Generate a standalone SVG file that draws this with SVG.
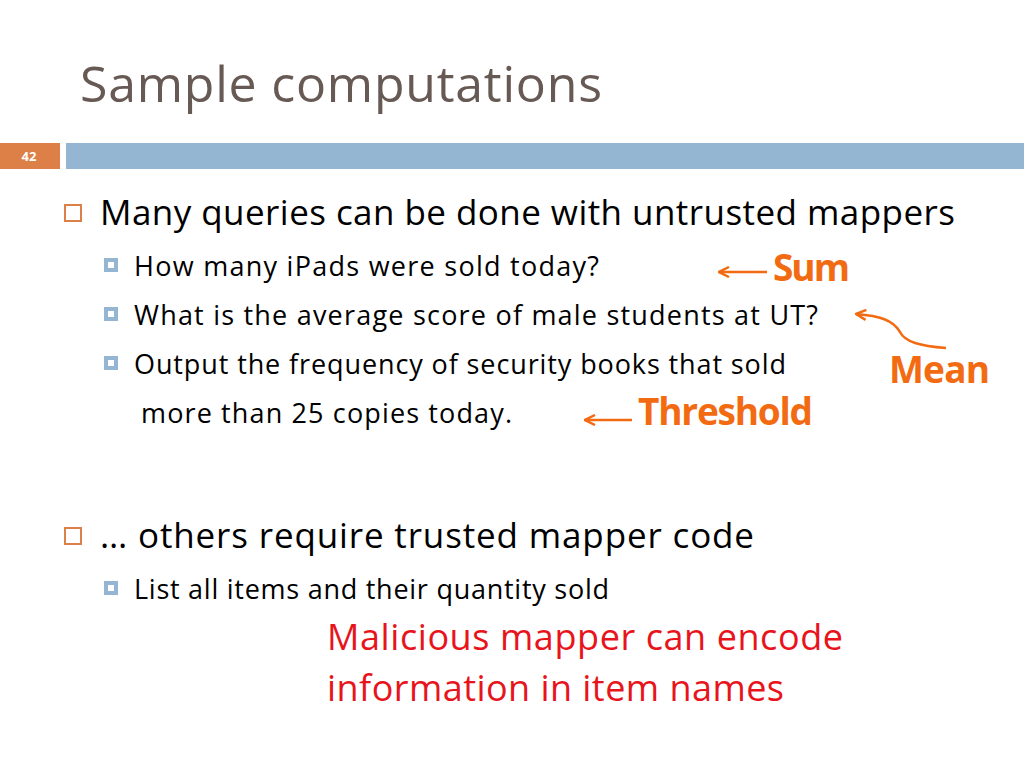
<svg xmlns="http://www.w3.org/2000/svg" width="1024" height="768" viewBox="0 0 1024 768">
<style>
.t{font-family:"Open Sans","DejaVu Sans",sans-serif;fill:#000}
.o{font-family:"Open Sans","Liberation Sans",sans-serif;font-weight:bold;fill:#f26b12}
.r{font-family:"Open Sans","Liberation Sans",sans-serif;fill:#e8141c}
.b1{fill:none;stroke:#dd8047;stroke-width:2}
.b2{fill:#fff;stroke:#94b6d2;stroke-width:4}
.a{fill:none;stroke:#f26b12;stroke-width:2.5}
</style>
<defs><marker id="ah" markerWidth="12" markerHeight="12" refX="11" refY="6" orient="auto" markerUnits="userSpaceOnUse"><path d="M1,1 L11,6 L1,11" fill="none" stroke="#f26b12" stroke-width="2.5"/></marker></defs>
<rect width="1024" height="768" fill="#fff"/>
<text x="80" y="102" font-family="Open Sans,DejaVu Sans,sans-serif" font-size="50" fill="#675a54" textLength="522">Sample computations</text>
<rect x="0" y="143" width="60" height="26" fill="#dd8047"/>
<text x="29" y="161" font-family="Open Sans,sans-serif" font-size="13" font-weight="bold" fill="#fff" text-anchor="middle">42</text>
<rect x="66" y="143" width="958" height="26" fill="#94b6d2"/>
<g id="bullets">
<rect x="65" y="205" width="16" height="16" class="b1"/>
<rect x="65" y="528" width="16" height="16" class="b1"/>
<rect x="106" y="260" width="10" height="10" class="b2"/>
<rect x="106" y="309" width="10" height="10" class="b2"/>
<rect x="106" y="358" width="10" height="10" class="b2"/>
<rect x="106" y="583" width="10" height="10" class="b2"/>
</g>
<g id="text">
<text class="t" x="100" y="225" font-size="35" textLength="855">Many queries can be done with untrusted mappers</text>
<text class="t" x="134" y="276" font-size="27" textLength="465">How many iPads were sold today?</text>
<text class="t" x="134" y="325" font-size="27" textLength="684">What is the average score of male students at UT?</text>
<text class="t" x="134" y="374" font-size="27" textLength="652">Output the frequency of security books that sold</text>
<text class="t" x="141" y="423" font-size="27" textLength="371">more than 25 copies today.</text>
<text class="t" x="100" y="548" font-size="35" textLength="654">… others require trusted mapper code</text>
<text class="t" x="134" y="599" font-size="27" textLength="475">List all items and their quantity sold</text>
<text class="r" x="327" y="650" font-size="36" textLength="516">Malicious mapper can encode</text>
<text class="r" x="327" y="701" font-size="36" textLength="457">information in item names</text>
</g>
<g id="labels">
<text class="o" x="773" y="281" font-size="37" textLength="77">Sum</text>
<text class="o" x="889" y="383" font-size="37" textLength="101">Mean</text>
<text class="o" x="638" y="425" font-size="37" textLength="175">Threshold</text>
</g>
<g id="connectors">
<path class="a" d="M767,272 L719,272" marker-end="url(#ah)"/>
<path class="a" d="M632,420 L585,420" marker-end="url(#ah)"/>
<path class="a" d="M946,348 C920,346 905,342 900,332 C893,320 880,316 856,314" marker-end="url(#ah)"/>
</g>
</svg>
